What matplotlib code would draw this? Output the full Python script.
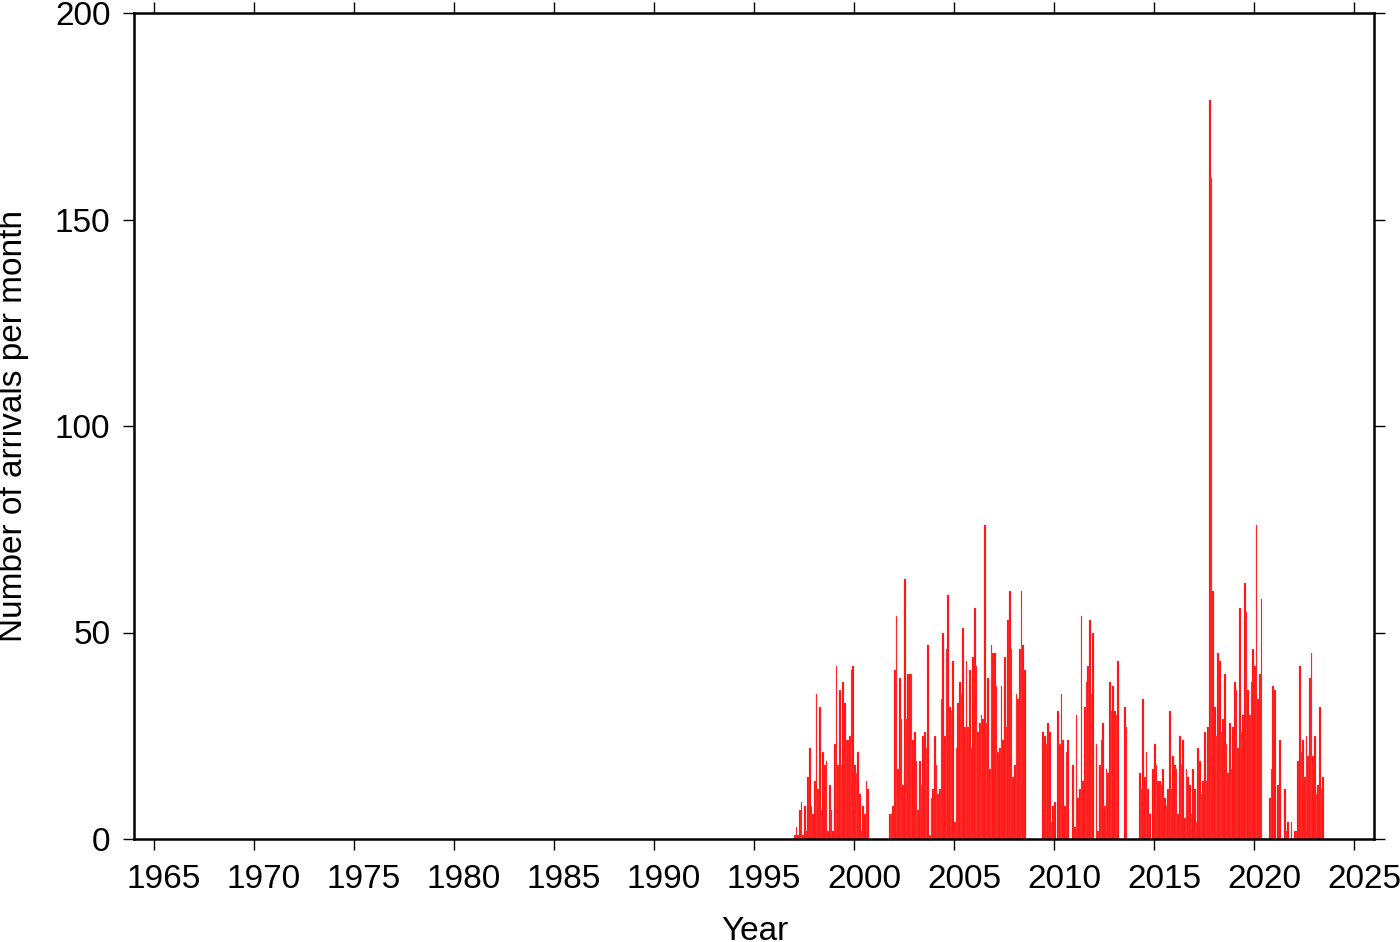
import numpy as np
import matplotlib
matplotlib.use("Agg")
import matplotlib.pyplot as plt
from matplotlib.transforms import ScaledTranslation

plt.rcParams['font.family'] = ['Liberation Sans', 'DejaVu Sans']

# monthly arrival counts, each block starts at the given (year, month)
start_1997 = (1997, 1)
counts_1997 = [1, 3, 1, 7, 9, 1, 8, 2, 15, 22, 8, 6, 14, 35, 12, 32, 7, 21, 18, 19,
               2, 13, 7, 2, 23, 42, 18, 36, 18, 38, 33, 24, 24, 25, 41, 42, 18, 16,
               21, 11, 2, 8, 6, 14, 12]

start_2001 = (2001, 10)
counts_2001 = [6, 6, 8, 41, 54, 17, 39, 29, 13, 63, 29, 40, 40, 40, 24, 26, 19, 7, 19,
               13, 25, 26, 22, 47, 1, 10, 12, 25, 18, 11, 12, 34, 50, 25, 46, 59, 32,
               31, 43, 4, 22, 33, 38, 35, 51, 27, 43, 27, 41, 22, 44, 56, 42, 26, 28,
               30, 29, 76, 28, 39, 17, 47, 45, 45, 37, 21, 22, 37, 24, 44, 27, 53, 60,
               46, 15, 18, 35, 34, 46, 60, 47, 41]

start_2009 = (2009, 6)
counts_2009 = [26, 25, 23, 28, 26, 4, 8, 9, 0, 31, 23, 35, 24, 8, 21, 24, 0, 0, 18, 3,
               30, 10, 12, 54, 14, 32, 38, 42, 53, 35, 50, 0, 23, 2, 18, 24, 28, 8, 17,
               16, 38, 31, 37, 31, 30, 43, 0, 0, 0, 32, 27]

start_2014 = (2014, 4)
counts_2014 = [16, 12, 34, 15, 21, 12, 6, 0, 17, 23, 18, 14, 14, 13, 17, 10, 8, 12, 31,
               12, 20, 18, 17, 6, 25, 18, 24, 5, 17, 15, 13, 6, 17, 12, 4, 22, 19, 11,
               14, 26, 14, 27, 179, 160, 60, 32, 25, 45, 43, 26, 29, 40, 23, 16, 28,
               17, 27, 38, 36, 22, 56, 26, 30, 62, 55, 36, 30, 38, 46, 42, 76, 34, 40,
               58, 0, 0, 0, 0, 10, 17, 37, 36, 0, 13, 24, 0, 0, 12, 2, 4, 0, 4, 0, 2, 2,
               19, 42, 21, 24, 15, 25, 20, 39, 45, 20, 25, 11, 13, 32, 12, 15]

blocks = [(start_1997, counts_1997), (start_2001, counts_2001),
          (start_2009, counts_2009), (start_2014, counts_2014)]

fig = plt.figure(figsize=(14, 9.42), dpi=100)
ax = fig.add_axes([134 / 1400, 1 - 839 / 942, 1240 / 1400, 826 / 942])

for (yr, mo), vals in blocks:
    vals = np.array(vals)
    x = yr + (mo - 1) / 12 + np.arange(len(vals)) / 12
    ax.bar(x, vals, width=1 / 12, align='edge', color='#ff0a0a',
           edgecolor='#ff7070', linewidth=0.2)

ax.set_xlim(1964, 2026)
ax.set_ylim(0, 200)
ax.set_xticks(np.arange(1965, 2026, 5))
ax.set_yticks([0, 50, 100, 150, 200])

for s in ax.spines.values():
    s.set_linewidth(1.8)
ax.tick_params(direction='out', length=8, width=1.0, labelsize=24,
               top=True, right=True, labeltop=False, labelright=False)
ax.tick_params(axis='x', pad=10)
ax.tick_params(axis='y', pad=9)

# labels sit a little right of their ticks, as in the original
shift = ScaledTranslation(10 / 100, 0, fig.dpi_scale_trans)
for lab in ax.get_xticklabels():
    lab.set_transform(lab.get_transform() + shift)

fig.text(755 / 1400, 1 - 940 / 942, 'Year', fontsize=24, ha='center', va='baseline')
fig.text(13.5 / 1400, 1 - 426 / 942, 'Number of arrivals per month', fontsize=24,
         rotation=90, ha='center', va='center')

plt.savefig('out.png', dpi=100)
